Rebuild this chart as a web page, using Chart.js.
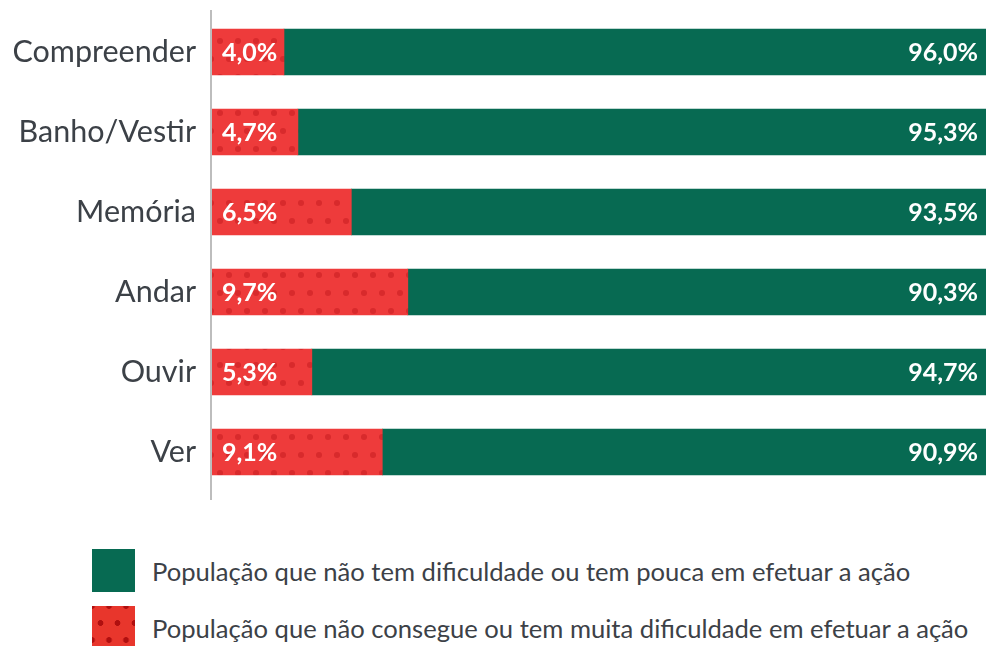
<!DOCTYPE html>
<html>
<head>
<meta charset="utf-8">
<script src="https://cdn.jsdelivr.net/npm/chart.js@4/dist/chart.umd.min.js"></script>
<style>
  body { margin: 0; background: #fff; font-family: Lato, sans-serif; }
  #wrap { position: relative; width: 986px; height: 646px; overflow: hidden; }
  #chart { position: absolute; left: 0; top: 0; }
  .legend { position: absolute; left: 92px; top: 549px; }
  .item { display: flex; align-items: center; height: 43px; margin-bottom: 14px; color: #3c4147; font-size: 25.6px; white-space: nowrap; }
  .sw { width: 43px; height: 43px; margin-right: 17px; flex: none; }
  .green { background: #076a52; }
  .red {
    background:
      radial-gradient(circle, #b00f0f 2.6px, transparent 3.2px) 0 0 / 17px 34px,
      radial-gradient(circle, #b00f0f 2.6px, transparent 3.2px) 8.5px 17px / 17px 34px,
      #e8362c;
  }
</style>
</head>
<body>
<div id="wrap">
  <canvas id="chart" width="986" height="520"></canvas>
  <div class="legend">
    <div class="item"><div class="sw green"></div>População que não tem dificuldade ou tem pouca em efetuar a ação</div>
    <div class="item"><div class="sw red"></div>População que não consegue ou tem muita dificuldade em efetuar a ação</div>
  </div>
</div>
<script>
const CATEGORIES = ['Compreender', 'Banho/Vestir', 'Memória', 'Andar', 'Ouvir', 'Ver'];
// bar lengths as drawn in the picture (share of the full row)
const RED_VALUES = [9.3, 11.1, 18.0, 25.3, 12.9, 22.0];
const GREEN_VALUES = [90.7, 88.9, 82.0, 74.7, 87.1, 78.0];
// printed percentages
const RED_LABELS = ['4,0%', '4,7%', '6,5%', '9,7%', '5,3%', '9,1%'];
const GREEN_LABELS = ['96,0%', '95,3%', '93,5%', '90,3%', '94,7%', '90,9%'];

const GREEN = '#076a52';
const RED = '#ee3b3b';
const FONT = 'Lato, sans-serif';

function dotPattern() {
    const c = document.createElement('canvas');
    c.width = 18;
    c.height = 36;
    const g = c.getContext('2d');
    g.fillStyle = RED;
    g.fillRect(0, 0, 18, 36);
    g.fillStyle = '#d82a2c';
    [[4, 5], [13, 23]].forEach(([x, y]) => {
        g.beginPath();
        g.arc(x, y, 3, 0, Math.PI * 2);
        g.fill();
    });
    return g.createPattern(c, 'repeat');
}

const barLabels = {
    id: 'barLabels',
    afterDatasetsDraw(chart) {
        const ctx = chart.ctx;
        ctx.save();
        ctx.font = 'bold 25px ' + FONT;
        ctx.fillStyle = '#fff';
        ctx.textBaseline = 'middle';
        chart.getDatasetMeta(0).data.forEach((bar, i) => {
            ctx.textAlign = 'left';
            ctx.fillText(RED_LABELS[i], bar.base + 10, bar.y + 1);
        });
        chart.getDatasetMeta(1).data.forEach((bar, i) => {
            ctx.textAlign = 'right';
            ctx.fillText(GREEN_LABELS[i], bar.x - 8, bar.y + 1);
        });
        // axis line
        ctx.strokeStyle = '#bdbdbd';
        ctx.lineWidth = 2;
        ctx.beginPath();
        ctx.moveTo(211, 10);
        ctx.lineTo(211, 500);
        ctx.stroke();
        ctx.restore();
    }
};

new Chart(document.getElementById('chart'), {
    type: 'bar',
    data: {
        labels: CATEGORIES,
        datasets: [
            {
                label: 'População que não consegue ou tem muita dificuldade em efetuar a ação',
                data: RED_VALUES,
                backgroundColor: dotPattern(),
                barThickness: 46,
            },
            {
                label: 'População que não tem dificuldade ou tem pouca em efetuar a ação',
                data: GREEN_VALUES,
                backgroundColor: GREEN,
                barThickness: 46,
            },
        ]
    },
    options: {
        indexAxis: 'y',
        responsive: false,
        animation: false,
        layout: { padding: { top: 12, bottom: 28, right: 0, left: 0 } },
        scales: {
            x: { stacked: true, min: 0, max: 100, display: false },
            y: {
                stacked: true,
                grid: { display: false, drawTicks: false },
                border: { display: false },
                ticks: {
                    color: '#3c4147',
                    padding: 16,
                    font: { family: FONT, size: 30.5 },
                },
                afterFit(scale) {
                    scale.width = 212;
                    scale.paddingTop = 0;
                    scale.paddingBottom = 0;
                },
            },
        },
        plugins: {
            legend: { display: false },
            tooltip: { enabled: false },
        }
    },
    plugins: [barLabels]
});
</script>
</body>
</html>
